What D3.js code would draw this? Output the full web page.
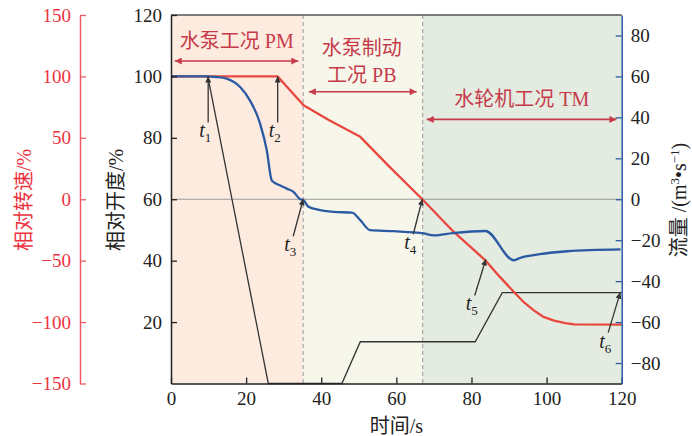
<!DOCTYPE html>
<html>
<head>
<meta charset="utf-8">
<script src="https://cdn.jsdelivr.net/npm/d3@7"></script>
<style>
body { margin: 0; background: #fff; }
svg text { font-family: "Liberation Serif", "Noto Sans CJK SC", serif; }
</style>
</head>
<body>
<svg id="chart" width="692" height="436"></svg>
<script>
// tick values
const timeTicks = [0, 20, 40, 60, 80, 100, 120];
const openTicks = [20, 40, 60, 80, 100, 120];
const speedTicks = [-150, -100, -50, 0, 50, 100, 150];
const flowTicks = [-80, -60, -40, -20, 0, 20, 40, 60, 80];

// phase boundaries in seconds
const phaseEdges = [0, 35.2, 67, 120];

// relative speed (%)
const speedTime = [0, 28.4, 35.3, 42, 50.4, 58, 66.9, 75.3, 83.7, 87.5, 91.3, 94, 96.6, 99, 102, 105, 107.3, 120];
const speedVal = [100, 100, 76.6, 64.5, 50.8, 27, 0, -26.6, -49.7, -63, -75.5, -84, -90.5, -95.5, -98.8, -100.9, -101.9, -102];

// flow (m3/s)
const flowTime = [0, 9.5, 12, 14.8, 18.4, 21, 23.7, 25.5, 26.8, 27.3, 29, 30.8, 32.6, 34.4, 35.3, 36.6, 38.8, 43.3, 48.2, 50.4, 53, 59.3, 67.3, 70, 75, 83.7, 91.3, 93, 96.6, 105.5, 119.7];
const flowVal = [60, 60, 59.7, 58.9, 54.8, 48.3, 37.1, 23.9, 9.3, 8.4, 6.8, 5.2, 3.6, 0, -0.5, -3.7, -5, -6.2, -6.5, -10.2, -15.1, -15.6, -16.7, -17.6, -16.5, -15.5, -29.8, -28.6, -27.3, -25.4, -24.5];

// relative opening (%)
const openTime = [0, 9.8, 25.9, 45.5, 50.4, 81, 88.2, 120];
const openVal = [100, 100, 0, 0, 13.6, 13.6, 29.6, 29.6];

let svg = d3.select("#chart");
let pLeft = 171, pRight = 621.7, pTop = 15, pBottom = 383.5;

let x = d3.scaleLinear().domain([0, 120]).range([pLeft, pRight]);
let yOpen = d3.scaleLinear().domain([0, 120]).range([pBottom, pTop]);
let ySpeed = d3.scaleLinear().domain([-150, 150]).range([pBottom, pTop]);
let yFlow = d3.scaleLinear().domain([-90, 90]).range([pBottom, pTop]);

const red = "#e8473f", redText = "#c63a4a", redAxis = "#f05a63";
const blue = "#2b5aa3";
const phaseFill = ["#fdebe0", "#f6f7ea", "#e4ebe1"];

// arrow markers
let defs = svg.append("defs");
function marker(id, color, w, h) {
    defs.append("marker")
    .attr("id", id)
    .attr("viewBox", "0 0 10 10")
    .attr("refX", 10)
    .attr("refY", 5)
    .attr("markerUnits", "userSpaceOnUse")
    .attr("markerWidth", w)
    .attr("markerHeight", h)
    .attr("orient", "auto-start-reverse")
    .append("path")
    .attr("d", "M0,0 L10,5 L0,10 z")
    .attr("fill", color);
}
marker("arRed", redText, 10, 7);
marker("arBlack", "#333", 9, 6);

// phase backgrounds
for (let i = 0; i < 3; i++) {
    svg.append("rect")
    .attr("x", x(phaseEdges[i]))
    .attr("y", pTop)
    .attr("width", x(phaseEdges[i + 1]) - x(phaseEdges[i]))
    .attr("height", pBottom - pTop)
    .attr("fill", phaseFill[i]);
}

// zero speed line
svg.append("line")
.attr("x1", pLeft).attr("x2", pRight)
.attr("y1", ySpeed(0)).attr("y2", ySpeed(0))
.attr("stroke", "#9a9a9a").attr("stroke-width", 1.1);

// dashed phase borders
[phaseEdges[1], phaseEdges[2]].forEach(function (t) {
    svg.append("line")
    .attr("x1", x(t)).attr("x2", x(t))
    .attr("y1", pTop).attr("y2", pBottom)
    .attr("stroke", "#a8a8a8").attr("stroke-width", 1.2)
    .attr("stroke-dasharray", "4,3");
});

// curves
let openLine = d3.line().x(d => x(d[0])).y(d => yOpen(d[1]));
let speedLine = d3.line().x(d => x(d[0])).y(d => ySpeed(d[1]));
let flowLine = d3.line().x(d => x(d[0])).y(d => yFlow(d[1])).curve(d3.curveMonotoneX);

svg.append("path")
.attr("d", openLine(d3.zip(openTime, openVal)))
.attr("fill", "none").attr("stroke", "#333").attr("stroke-width", 1.3);

svg.append("path")
.attr("d", speedLine(d3.zip(speedTime, speedVal)))
.attr("fill", "none").attr("stroke", red).attr("stroke-width", 2.3)
.attr("stroke-linejoin", "round");

svg.append("path")
.attr("d", flowLine(d3.zip(flowTime, flowVal)))
.attr("fill", "none").attr("stroke", blue).attr("stroke-width", 2.3);

// frame top
svg.append("line")
.attr("x1", pLeft).attr("x2", pRight).attr("y1", pTop).attr("y2", pTop)
.attr("stroke", "#555").attr("stroke-width", 1.5);

// axes
function styleAxis(g, color) {
    g.selectAll("path").attr("stroke", color).attr("stroke-width", 1.5);
    g.selectAll("line").attr("stroke", color).attr("stroke-width", 1.3);
    g.selectAll("text").attr("fill", color).attr("font-size", 19)
    .attr("font-family", "Liberation Serif, serif");
}

let gx = svg.append("g").attr("transform", "translate(0," + pBottom + ")")
.call(d3.axisBottom(x).tickValues(timeTicks).tickSize(-6).tickSizeOuter(0).tickPadding(8));
styleAxis(gx, "#222");

let gOpen = svg.append("g").attr("transform", "translate(" + pLeft + ",0)")
.call(d3.axisLeft(yOpen).tickValues(openTicks).tickSize(-6).tickSizeOuter(0).tickPadding(9));
styleAxis(gOpen, "#222");

let gSpeed = svg.append("g").attr("transform", "translate(80,0)")
.call(d3.axisLeft(ySpeed).tickValues(speedTicks).tickSize(-6).tickSizeOuter(0).tickPadding(9));
styleAxis(gSpeed, redAxis);
gSpeed.selectAll("text").attr("fill", "#ee3340");

let gFlow = svg.append("g").attr("transform", "translate(" + pRight + ",0)")
.call(d3.axisRight(yFlow).tickValues(flowTicks).tickSize(-6).tickSizeOuter(0).tickPadding(9));
styleAxis(gFlow, blue);
gFlow.selectAll("text").attr("fill", "#222");

// axis titles
svg.append("text")
.attr("transform", "translate(31,200) rotate(-90)")
.attr("text-anchor", "middle").attr("font-size", 20).attr("fill", "#ee3340")
.text("相对转速/%");

svg.append("text")
.attr("transform", "translate(123,200) rotate(-90)")
.attr("text-anchor", "middle").attr("font-size", 20).attr("fill", "#222")
.text("相对开度/%");

let ft = svg.append("text")
.attr("transform", "translate(686,200) rotate(-90)")
.attr("text-anchor", "middle").attr("font-size", 20).attr("fill", "#222");
ft.append("tspan").text("流量 /(m");
ft.append("tspan").attr("dy", -7).attr("font-size", 13).text("3");
ft.append("tspan").attr("dy", 7).text("•s");
ft.append("tspan").attr("dy", -7).attr("font-size", 13).text("−1");
ft.append("tspan").attr("dy", 7).text(")");

svg.append("text")
.attr("x", x(60)).attr("y", 433)
.attr("text-anchor", "middle").attr("font-size", 20).attr("fill", "#222")
.text("时间/s");

// phase labels with double arrows
function phaseArrow(t0, t1, v) {
    svg.append("line")
    .attr("x1", x(t0)).attr("x2", x(t1))
    .attr("y1", yOpen(v)).attr("y2", yOpen(v))
    .attr("stroke", redText).attr("stroke-width", 1.6)
    .attr("marker-start", "url(#arRed)").attr("marker-end", "url(#arRed)");
}
function phaseText(t, v, s) {
    svg.append("text")
    .attr("x", x(t)).attr("y", yOpen(v))
    .attr("text-anchor", "middle").attr("dy", "0.35em")
    .attr("font-size", 20).attr("fill", redText)
    .text(s);
}
phaseText(17.5, 111.5, "水泵工况 PM");
phaseArrow(1.0, 33.9, 105);
phaseText(50.8, 109.3, "水泵制动");
phaseText(50.8, 100.5, "工况 PB");
phaseArrow(36.7, 65.4, 95);
phaseText(93.4, 92.6, "水轮机工况 TM");
phaseArrow(68.1, 118.6, 86);

// event markers t1..t6: tip in data units, tail offset and label offset in px
function event(n, tx, ty, dx, dy) {
    let px = x(tx), py = ty;
    svg.append("line")
    .attr("x1", px + dx).attr("y1", py + dy)
    .attr("x2", px).attr("y2", py)
    .attr("stroke", "#333").attr("stroke-width", 1.3)
    .attr("marker-end", "url(#arBlack)");
    let lb = svg.append("text")
    .attr("x", px + dx - 9).attr("y", py + dy + 15)
    .attr("font-size", 20).attr("fill", "#222");
    lb.append("tspan").attr("font-style", "italic").text("t");
    lb.append("tspan").attr("dy", 5).attr("font-size", 13).text(n);
}
event("1", 9.9, yOpen(100), 0, 46);
event("2", 28.4, yOpen(100), 0, 46);
event("3", 35.2, yFlow(0), -10, 37);
event("4", 66.9, ySpeed(0), -9, 35);
event("5", 83.8, ySpeed(-49), -11, 36);
event("6", 119.6, yOpen(29.6), -12, 40);
</script>
</body>
</html>
